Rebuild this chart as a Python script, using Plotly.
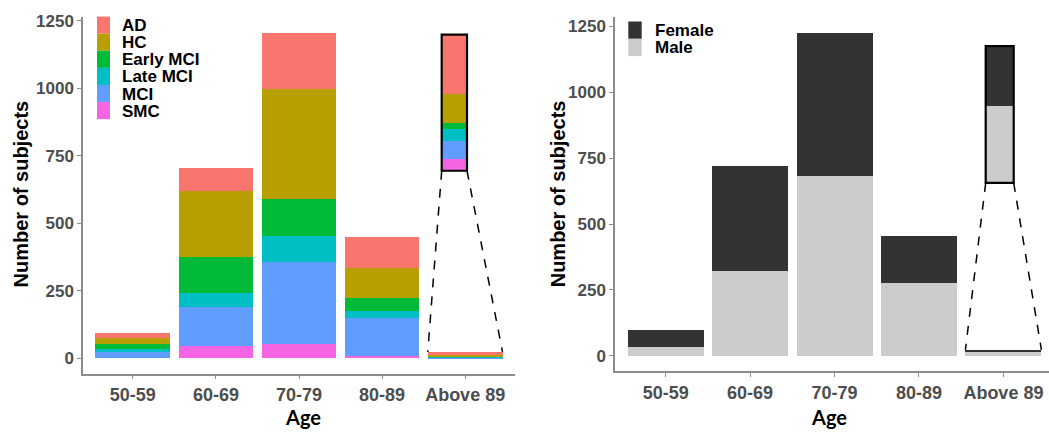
import plotly.graph_objects as go

# ---- data -------------------------------------------------------------
ages = ["50-59", "60-69", "70-79", "80-89", "Above 89"]

# subjects per diagnosis and age group
smc = [0, 45, 51, 8, 2]
mci = [24, 145, 306, 139, 3]
late_mci = [11, 52, 95, 26, 2]
early_mci = [18, 132, 138, 51, 1]
hc = [20, 247, 407, 109, 5]
ad = [21, 83, 208, 116, 10]

# subjects per sex and age group
male = [34, 323, 681, 277, 13]
female = [63, 396, 544, 179, 10]

dx_names = ["SMC", "MCI", "Late MCI", "Early MCI", "HC", "AD"]
dx_values = [smc, mci, late_mci, early_mci, hc, ad]
dx_colors = ["#F564E3", "#619CFF", "#00BFC4", "#00BA38", "#B79F00", "#F8766D"]

sex_names = ["Male", "Female"]
sex_values = [male, female]
sex_colors = ["#CCCCCC", "#333333"]

y_ticks = [0, 250, 500, 750, 1000, 1250]

# ---- geometry (pixels of a 1049x432 page) -----------------------------
W, H = 1049, 432


def px(x):
    return x / W


def py(y):
    return 1 - y / H


BAR_W = 0.9
left_dom_x = [px(83), px(515)]
left_dom_y = [py(373), py(11.7)]
left_rng_x = [-0.6, 4.6]
left_rng_y = [-57.5, 1265.7]

right_dom_x = [px(615), 1.0]
right_dom_y = [py(370.7), py(11.7)]
right_rng_x = [-0.6, 4.54]
right_rng_y = [-58.9, 1287.5]

left_inset_x = [px(441.7), px(467)]
left_inset_y = [py(167.7), py(30)]
right_inset_x = [px(985.7), px(1013.7)]
right_inset_y = [py(180), py(41.7)]

AXIS_GREY = "#8C8C8C"
TICK_FONT = dict(family="Liberation Sans", size=17, color="#4D4D4D", weight="bold")
XTICK_FONT = dict(family="Liberation Sans", size=18, color="#4D4D4D", weight="bold")
YTITLE_FONT = dict(family="Liberation Sans", size=20, color="black", weight="bold")
XTITLE_FONT = dict(family="Lato", size=20, color="black", weight="bold")
LEGEND_FONT = dict(family="Liberation Sans", size=17, color="black", weight="bold")

fig = go.Figure()

# ---- left panel: diagnosis --------------------------------------------
for name, vals, col in zip(dx_names, dx_values, dx_colors):
    fig.add_trace(go.Bar(x=ages, y=vals, name=name, marker_color=col,
                         marker_line_width=0, width=BAR_W,
                         xaxis="x", yaxis="y", showlegend=False))
    fig.add_trace(go.Bar(x=[ages[-1]], y=[vals[-1]], marker_color=col,
                         marker_line_width=0, width=BAR_W,
                         xaxis="x3", yaxis="y3", showlegend=False))

# ---- right panel: sex -------------------------------------------------
for name, vals, col in zip(sex_names, sex_values, sex_colors):
    fig.add_trace(go.Bar(x=ages, y=vals, name=name, marker_color=col,
                         marker_line_width=0, width=BAR_W,
                         xaxis="x2", yaxis="y2", showlegend=False))
    fig.add_trace(go.Bar(x=[ages[-1]], y=[vals[-1]], marker_color=col,
                         marker_line_width=0, width=BAR_W,
                         xaxis="x4", yaxis="y4", showlegend=False))

dx_last_total = sum(v[-1] for v in dx_values)
sex_last_total = sum(v[-1] for v in sex_values)


def main_x(dom, rng, anchor):
    return dict(domain=dom, range=rng, type="category", anchor=anchor,
                showline=True, linecolor=AXIS_GREY, linewidth=1.5,
                ticks="outside", ticklen=4, tickcolor=AXIS_GREY,
                tickfont=XTICK_FONT, showgrid=False, zeroline=False)


def main_y(dom, rng, anchor):
    return dict(domain=dom, range=rng, anchor=anchor, showline=True,
                linecolor=AXIS_GREY, linewidth=1.5, ticks="outside",
                ticklen=4, tickcolor=AXIS_GREY, tickfont=TICK_FONT,
                tickvals=y_ticks, showgrid=False, zeroline=False)


def inset_x(dom, anchor):
    return dict(domain=dom, range=[-0.45, 0.45], type="category",
                anchor=anchor, visible=False)


def inset_y(dom, total, anchor):
    return dict(domain=dom, range=[0, total], anchor=anchor, visible=False)


fig.update_layout(
    width=W, height=H,
    margin=dict(l=0, r=0, t=0, b=0),
    paper_bgcolor="white", plot_bgcolor="white",
    barmode="stack", bargap=0.1,
    xaxis=main_x(left_dom_x, left_rng_x, "y"),
    yaxis=main_y(left_dom_y, left_rng_y, "x"),
    xaxis2=main_x(right_dom_x, right_rng_x, "y2"),
    yaxis2=main_y(right_dom_y, right_rng_y, "x2"),
    xaxis3=inset_x(left_inset_x, "y3"),
    yaxis3=inset_y(left_inset_y, dx_last_total, "x3"),
    xaxis4=inset_x(right_inset_x, "y4"),
    yaxis4=inset_y(right_inset_y, sex_last_total, "x4"),
)


def to_paper(v, rng, dom):
    return dom[0] + (v - rng[0]) / (rng[1] - rng[0]) * (dom[1] - dom[0])


shapes = []
# zoom frames and connector lines
for ins_x, ins_y, dom_x, dom_y, rng_x, rng_y, total in [
    (left_inset_x, left_inset_y, left_dom_x, left_dom_y, left_rng_x, left_rng_y, dx_last_total),
    (right_inset_x, right_inset_y, right_dom_x, right_dom_y, right_rng_x, right_rng_y, sex_last_total),
]:
    shapes.append(dict(type="rect", xref="paper", yref="paper",
                       x0=ins_x[0], x1=ins_x[1], y0=ins_y[0], y1=ins_y[1],
                       line=dict(color="black", width=2.2), layer="above"))
    idx = len(ages) - 1
    bar_y = to_paper(total, rng_y, dom_y)
    for side, corner in ((-1, ins_x[0]), (1, ins_x[1])):
        bar_x = to_paper(idx + side * BAR_W / 2, rng_x, dom_x)
        shapes.append(dict(type="line", xref="paper", yref="paper",
                           x0=corner, y0=ins_y[0], x1=bar_x, y1=bar_y,
                           line=dict(color="black", width=1.5, dash="dash")))

annotations = []

# axis titles
for xc in (20.7, 557.5):
    annotations.append(dict(xref="paper", yref="paper", x=px(xc), y=py(191),
                            text="Number of subjects", textangle=-90,
                            showarrow=False, xanchor="center",
                            yanchor="middle", font=YTITLE_FONT))
for xc in (303, 829):
    annotations.append(dict(xref="paper", yref="paper", x=px(xc), y=py(417),
                            text="Age", showarrow=False, xanchor="center",
                            yanchor="middle", font=XTITLE_FONT))


def add_legend(names, colors, x_sw, y_top, key_h, x_text, font):
    for i, (name, col) in enumerate(zip(names, colors)):
        y0 = y_top + i * key_h
        shapes.append(dict(type="rect", xref="paper", yref="paper",
                           x0=px(x_sw[0]), x1=px(x_sw[1]),
                           y0=py(y0 + key_h), y1=py(y0),
                           fillcolor=col, line=dict(width=0)))
        annotations.append(dict(xref="paper", yref="paper", x=px(x_text),
                                y=py(y0 + key_h / 2 + 0.5), text=name,
                                showarrow=False, xanchor="left",
                                yanchor="middle", font=font))


# legends listed top to bottom
add_legend(dx_names[::-1], dx_colors[::-1], (97, 110), 11.7, 17.3, 120,
           LEGEND_FONT)
add_legend(sex_names[::-1], sex_colors[::-1], (628.3, 641.7), 16.7, 17.5, 653,
           LEGEND_FONT)

fig.update_layout(shapes=shapes, annotations=annotations)

fig.write_html("out.html")
